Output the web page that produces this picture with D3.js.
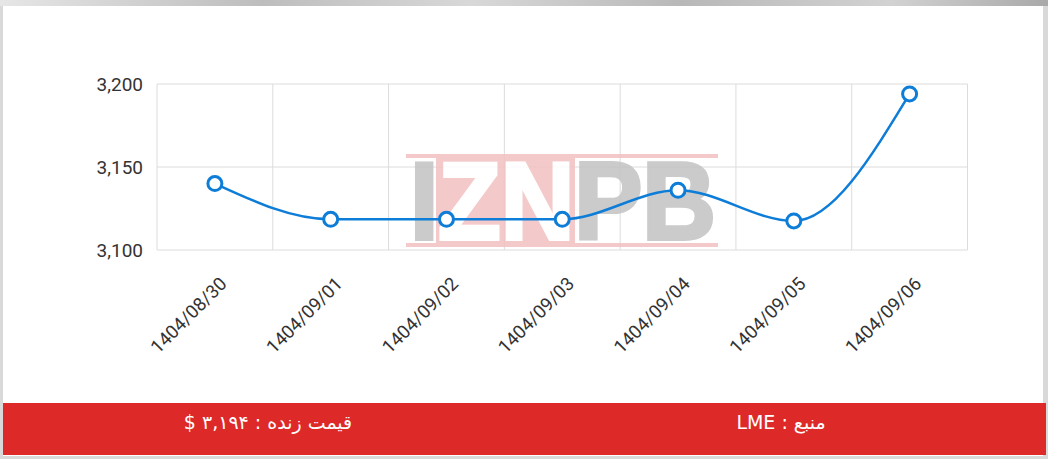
<!DOCTYPE html>
<html>
<head>
<meta charset="utf-8">
<script src="https://cdn.jsdelivr.net/npm/d3@7"></script>
<style>
  html, body { margin: 0; padding: 0; background: #fff; }
  svg { display: block; }
</style>
</head>
<body>
<svg id="chart" width="1048" height="459"></svg>
<script>
// ---- data ----
const categories = ["1404/08/30", "1404/09/01", "1404/09/02", "1404/09/03", "1404/09/04", "1404/09/05", "1404/09/06"];
const values = [3140, 3118.5, 3118.5, 3118.5, 3136, 3117.5, 3194];
const yTicks = [3100, 3150, 3200];
const footerPrice = "قیمت زنده : ۳,۱۹۴ $";
const footerSource = "منبع : LME";
const watermarkLetters = ["I", "ZN", "PB"];

// ---- layout ----
const W = 1048, H = 459;
const plot = { left: 157, right: 967.5, top: 84, bottom: 250 };
const svg = d3.select("#chart");

// frame
const frameGrad = svg.append("defs").append("linearGradient")
  .attr("id", "frameGrad").attr("x1", 0).attr("x2", 1).attr("y1", 0).attr("y2", 0);
[[0, "#e6e6e6"], [0.25, "#bdbdbd"], [0.45, "#d8d8d8"], [0.65, "#b8b8b8"], [0.85, "#d2d2d2"], [1, "#a9a9a9"]]
  .forEach(([o, c]) => frameGrad.append("stop").attr("offset", o).attr("stop-color", c));
svg.append("rect").attr("x", 0).attr("y", 0).attr("width", W).attr("height", H).attr("fill", "#d9d9d9");
svg.append("rect").attr("x", 0).attr("y", 0).attr("width", W).attr("height", 6).attr("fill", "url(#frameGrad)");
svg.append("rect").attr("x", 3).attr("y", 6).attr("width", 1040).attr("height", 450).attr("fill", "#ffffff");

// scales
const x = d3.scaleBand().domain(categories).range([plot.left, plot.right]).padding(0);
const y = d3.scaleLinear().domain([3100, 3200]).range([plot.bottom, plot.top]);

const g = svg.append("g");

// grid
g.append("g").selectAll("line.h").data(yTicks).join("line")
  .attr("x1", plot.left).attr("x2", plot.right)
  .attr("y1", d => y(d)).attr("y2", d => y(d))
  .attr("stroke", "#dcdcdc").attr("stroke-width", 1);
const vEdges = categories.map(c => x(c)).concat([x(categories[categories.length - 1]) + x.bandwidth()]);
g.append("g").selectAll("line.v").data(vEdges).join("line")
  .attr("x1", d => d).attr("x2", d => d)
  .attr("y1", plot.top).attr("y2", plot.bottom)
  .attr("stroke", "#dcdcdc").attr("stroke-width", 1);

// watermark
const wm = g.append("g").attr("opacity", 0.88);
wm.append("rect").attr("x", 406).attr("y", 154).attr("width", 312).attr("height", 4).attr("fill", "#f3c2c2");
wm.append("rect").attr("x", 406).attr("y", 243).attr("width", 312).attr("height", 4).attr("fill", "#f3c2c2");
wm.append("rect").attr("x", 436).attr("y", 158).attr("width", 139).attr("height", 85).attr("fill", "#f3c2c2");
const letterColors = ["#c4c4c4", "#ffffff", "#c4c4c4"];
const wmText = wm.append("text")
  .attr("x", 410)
  .attr("y", 239)
  .attr("textLength", 306)
  .attr("lengthAdjust", "spacingAndGlyphs")
  .attr("font-family", "Liberation Sans, Arial, sans-serif")
  .attr("font-weight", "bold")
  .attr("font-size", 110)
  .attr("stroke-width", 4)
  .attr("stroke-linejoin", "miter");
wmText.selectAll("tspan").data(watermarkLetters).join("tspan")
  .attr("fill", (d, i) => letterColors[i])
  .attr("stroke", (d, i) => letterColors[i])
  .text(d => d);

// y axis labels
g.append("g").selectAll("text").data(yTicks).join("text")
  .attr("x", 143).attr("y", d => y(d))
  .attr("dy", "0.36em")
  .attr("text-anchor", "end")
  .attr("font-family", "Roboto, sans-serif")
  .attr("font-size", 19)
  .attr("fill", "#333")
  .text(d => d3.format(",")(d));

// x axis labels
g.append("g").selectAll("text").data(categories).join("text")
  .attr("transform", d => `translate(${x(d) + x.bandwidth() / 2 + 13},${285}) rotate(-45)`)
  .attr("text-anchor", "end")
  .attr("font-family", "Roboto, sans-serif")
  .attr("font-size", 18.5)
  .attr("fill", "#333")
  .text(d => d);

// line
const cx = (d, i) => x(categories[i]) + x.bandwidth() / 2;
const line = d3.line().x(cx).y(d => y(d)).curve(d3.curveMonotoneX);
g.append("path").datum(values)
  .attr("d", line)
  .attr("fill", "none")
  .attr("stroke", "#0d7dd8")
  .attr("stroke-width", 2.5);

g.append("g").selectAll("circle").data(values).join("circle")
  .attr("cx", cx).attr("cy", d => y(d))
  .attr("r", 7)
  .attr("fill", "#fff")
  .attr("stroke", "#0d7dd8")
  .attr("stroke-width", 3);

// footer
svg.append("rect").attr("x", 3).attr("y", 403).attr("width", 1043).attr("height", 52).attr("fill", "#de2929");
svg.append("text").attr("x", 268).attr("y", 429)
  .attr("text-anchor", "middle").attr("direction", "rtl")
  .attr("font-family", "DejaVu Sans, sans-serif").attr("font-size", 19).attr("fill", "#fff")
  .text(footerPrice);
svg.append("text").attr("x", 781).attr("y", 429)
  .attr("text-anchor", "middle").attr("direction", "rtl")
  .attr("font-family", "DejaVu Sans, sans-serif").attr("font-size", 19).attr("fill", "#fff")
  .text(footerSource);
</script>
</body>
</html>
